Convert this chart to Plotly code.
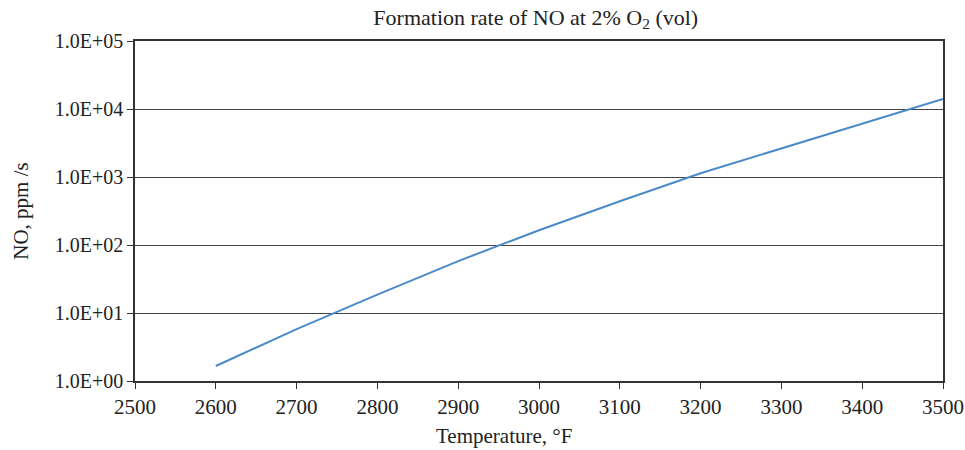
import plotly.graph_objects as go

# Temperature (°F) and NO formation rate (ppm/s) at 2% O2
temperature_f = [2600, 2700, 2800, 2900, 3000, 3100, 3200, 3300, 3400, 3500]
no_rate_ppm_s = [1.66, 5.8, 18.6, 58, 165, 440, 1135, 2650, 6100, 14100]

y_tick_vals = [1, 10, 100, 1000, 10000, 100000]
y_tick_text = ["1.0E+00", "1.0E+01", "1.0E+02", "1.0E+03", "1.0E+04", "1.0E+05"]
x_tick_vals = [2500, 2600, 2700, 2800, 2900, 3000, 3100, 3200, 3300, 3400, 3500]

font_family = "Liberation Serif, DejaVu Serif, serif"
axis_color = "#333333"
text_color = "#222222"

fig = go.Figure(
    go.Scatter(
        x=temperature_f,
        y=no_rate_ppm_s,
        mode="lines",
        line=dict(color="#4a8ac9", width=2),
        showlegend=False,
    )
)

fig.update_layout(
    width=965,
    height=450,
    margin=dict(l=135, r=22, t=41, b=69, autoexpand=False),
    paper_bgcolor="white",
    plot_bgcolor="white",
    font=dict(family=font_family, size=21, color=text_color),
    title=dict(
        text="Formation rate of NO at 2% O<sub>2</sub> (vol)",
        x=0.496,
        xref="paper",
        xanchor="center",
        y=0.962,
        yanchor="middle",
        font=dict(family=font_family, size=22, color=text_color),
    ),
    xaxis=dict(
        range=[2500, 3500],
        tickvals=x_tick_vals,
        showgrid=False,
        zeroline=False,
        showline=True,
        linecolor=axis_color,
        linewidth=1.5,
        mirror=True,
        ticks="outside",
        ticklen=6,
        tickcolor=axis_color,
        tickfont=dict(size=21),
        automargin=False,
    ),
    yaxis=dict(
        type="log",
        range=[0, 5],
        tickvals=y_tick_vals,
        ticktext=y_tick_text,
        showgrid=True,
        gridcolor="#444444",
        gridwidth=1,
        zeroline=False,
        showline=True,
        linecolor=axis_color,
        linewidth=1.5,
        mirror=True,
        ticks="outside",
        ticklen=6,
        tickcolor=axis_color,
        tickfont=dict(size=20),
        automargin=False,
        title=dict(text="NO, ppm /s", standoff=20,
                   font=dict(family=font_family, size=21)),
    ),
    annotations=[
        dict(
            text="Temperature, °F",
            xref="paper",
            yref="paper",
            x=0.4567,
            y=-0.163,
            xanchor="center",
            yanchor="middle",
            showarrow=False,
            font=dict(family=font_family, size=21, color=text_color),
        )
    ],
)

fig.write_html("out.html")
